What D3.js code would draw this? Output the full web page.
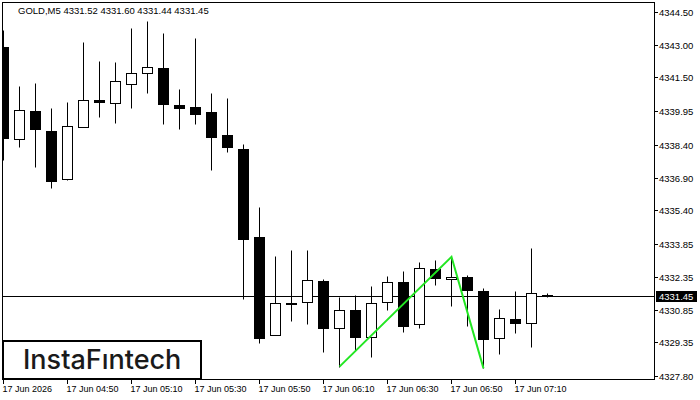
<!DOCTYPE html>
<html>
<head>
<meta charset="utf-8">
<script src="https://cdn.jsdelivr.net/npm/d3@7"></script>
<style>
	body { margin: 0; background: #fff; }
	text { font-family: "Liberation Sans", Arial, sans-serif; }
</style>
</head>
<body>
<div class="chart"></div>
<script>
	// GOLD M5 candles
	var times = ['04:30','04:35','04:40','04:45','04:50','04:55','05:00','05:05','05:10','05:15','05:20','05:25',
		'05:30','05:35','05:40','05:45','05:50','05:55','06:00','06:05','06:10','06:15','06:20','06:25',
		'06:30','06:35','06:40','06:45','06:50','06:55','07:00','07:05','07:10','07:15','07:20'];
	var opens  = [4342.91,4338.66,4339.96,4339.04,4336.82,4339.24,4340.44,4340.31,4341.18,4341.69,4341.92,4340.22,
		4340.13,4339.91,4338.86,4338.21,4334.18,4329.67,4331.15,4331.18,4332.16,4330.02,4330.83,4329.60,
		4331.18,4332.11,4330.17,4332.71,4332.24,4332.34,4331.70,4329.56,4330.42,4330.22,4331.52];
	var highs  = [4343.67,4341.10,4341.26,4340.10,4340.37,4343.12,4342.25,4342.21,4343.78,4344.09,4343.55,4340.97,
		4343.31,4340.78,4340.55,4338.44,4335.55,4333.31,4333.58,4333.58,4332.26,4331.41,4331.52,4331.93,
		4332.39,4332.62,4333.03,4333.12,4333.27,4332.43,4331.82,4330.87,4331.70,4333.67,4331.60];
	var lows   = [4337.71,4338.29,4337.40,4336.44,4336.80,4339.22,4339.70,4339.42,4340.11,4340.77,4339.36,4339.15,
		4339.38,4337.25,4338.09,4331.35,4329.30,4329.66,4330.34,4330.17,4328.92,4328.23,4328.99,4328.69,
		4330.83,4329.83,4330.02,4331.98,4331.03,4330.11,4328.15,4328.80,4329.79,4329.14,4331.44];
	var closes = [4338.72,4340.00,4339.12,4336.76,4339.27,4340.46,4340.35,4341.33,4341.72,4341.96,4340.28,4340.11,
		4339.83,4338.78,4338.32,4334.09,4329.56,4331.14,4331.14,4332.19,4330.02,4330.81,4329.60,4331.14,
		4332.10,4330.11,4332.74,4332.31,4332.34,4331.76,4329.51,4330.45,4330.25,4331.59,4331.45];

	var yTicks = [4344.50,4343.00,4341.50,4339.95,4338.40,4336.90,4335.40,4333.85,4332.35,4330.85,4329.35,4327.80];
	var xTickIdx = [0,4,8,12,16,20,24,28,32];
	var xTickLabels = ['17 Jun 2026','17 Jun 04:50','17 Jun 05:10','17 Jun 05:30','17 Jun 05:50',
		'17 Jun 06:10','17 Jun 06:30','17 Jun 06:50','17 Jun 07:10'];

	// pattern: bottom, top, bottom (candle index, price)
	var patternIdx = [21, 28, 30];
	var patternPrice = [4328.23, 4333.27, 4328.15];

	var lastPrice = 4331.45;
	var header = 'GOLD,M5  4331.52 4331.60 4331.44 4331.45';

	var data = times.map(function(t, i){
		return {t: t, o: opens[i], h: highs[i], l: lows[i], c: closes[i]};
	});

	var W = 700, H = 400;
	var plot = {left: 2, top: 2, right: 654, bottom: 379};

	var svg = d3.select('.chart').append('svg')
		.attr('width', W)
		.attr('height', H)
		.style('display', 'block')
		.style('background', '#fff');

	var xScale = d3.scaleLinear().domain([0, 34]).range([3.5, 547.5]);
	var yScale = d3.scaleLinear().domain([4327.80, 4344.50]).range([376, 12]);

	svg.append('clipPath').attr('id', 'plotclip')
		.append('rect')
		.attr('x', plot.left).attr('y', plot.top)
		.attr('width', plot.right - plot.left).attr('height', plot.bottom - plot.top);

	var g = svg.append('g').attr('clip-path', 'url(#plotclip)');

	// last price line
	var yLast = Math.round(yScale(lastPrice)) + 0.5;
	g.append('line')
		.attr('x1', plot.left).attr('x2', plot.right)
		.attr('y1', yLast).attr('y2', yLast)
		.attr('stroke', '#000').attr('stroke-width', 1);

	function py(v){ return Math.round(yScale(v)) + 0.5; }

	var candles = g.selectAll('.candle')
		.data(data)
		.enter().append('g')
		.attr('class', 'candle');

	candles.append('line')
		.attr('x1', function(d, i){ return xScale(i); })
		.attr('x2', function(d, i){ return xScale(i); })
		.attr('y1', function(d){ return py(d.h); })
		.attr('y2', function(d){ return py(d.l); })
		.attr('stroke', '#000')
		.attr('stroke-width', 1);

	candles.append('rect')
		.attr('x', function(d, i){ return xScale(i) - 5; })
		.attr('width', 10)
		.attr('y', function(d){ return py(Math.max(d.o, d.c)); })
		.attr('height', function(d){ return Math.max(py(Math.min(d.o, d.c)) - py(Math.max(d.o, d.c)), 1); })
		.attr('fill', function(d){ return d.c >= d.o ? '#fff' : '#000'; })
		.attr('stroke', '#000')
		.attr('stroke-width', 1);

	// green pattern line
	var line = d3.line()
		.x(function(d){ return xScale(d[0]); })
		.y(function(d){ return yScale(d[1]); });

	g.append('path')
		.datum(patternIdx.map(function(d, i){ return [d, patternPrice[i]]; }))
		.attr('d', line)
		.attr('fill', 'none')
		.attr('stroke', '#22e622')
		.attr('stroke-width', 2);

	// frame
	svg.append('rect')
		.attr('x', plot.left + 0.5).attr('y', plot.top + 0.5)
		.attr('width', plot.right - plot.left).attr('height', plot.bottom - plot.top)
		.attr('fill', 'none').attr('stroke', '#000').attr('stroke-width', 1);

	// y axis on the right
	var yAxis = svg.append('g').attr('class', 'y axis');
	yTicks.forEach(function(v){
		var y = py(v);
		yAxis.append('line')
			.attr('x1', plot.right).attr('x2', plot.right + 4)
			.attr('y1', y).attr('y2', y)
			.attr('stroke', '#000');
		yAxis.append('text')
			.attr('x', plot.right + 5)
			.attr('y', y + 3.5)
			.attr('font-size', '9.5px')
			.attr('fill', '#000')
			.text(d3.format('.2f')(v));
	});

	// last price tag
	svg.append('rect')
		.attr('x', plot.right + 2).attr('y', yLast - 5.5)
		.attr('width', 41).attr('height', 11)
		.attr('fill', '#000');
	svg.append('text')
		.attr('x', plot.right + 5)
		.attr('y', yLast + 3.5)
		.attr('font-size', '9.5px')
		.attr('fill', '#fff')
		.text(d3.format('.2f')(lastPrice));

	// x axis
	var xAxis = svg.append('g').attr('class', 'x axis');
	xTickIdx.forEach(function(idx, i){
		var x = xScale(idx);
		xAxis.append('line')
			.attr('x1', x).attr('x2', x)
			.attr('y1', plot.bottom).attr('y2', plot.bottom + 5)
			.attr('stroke', '#000');
		xAxis.append('text')
			.attr('x', x - 1)
			.attr('y', plot.bottom + 13)
			.attr('font-size', '9px')
			.attr('fill', '#000')
			.text(xTickLabels[i]);
	});

	// header
	svg.append('text')
		.attr('x', 18)
		.attr('y', 14)
		.attr('font-size', '9.5px')
		.attr('fill', '#000')
		.text(header);

	// logo
	svg.append('rect')
		.attr('x', 3).attr('y', 341)
		.attr('width', 198).attr('height', 38)
		.attr('fill', '#fff')
		.attr('stroke', '#000')
		.attr('stroke-width', 2);
	svg.append('text')
		.attr('x', 23)
		.attr('y', 369)
		.style('font-family', 'Inter, "Noto Sans", sans-serif')
		.style('font-weight', 500)
		.attr('font-size', '27px')
		.attr('fill', '#1a1a1a')
		.text('InstaFıntech');
</script>
</body>
</html>
